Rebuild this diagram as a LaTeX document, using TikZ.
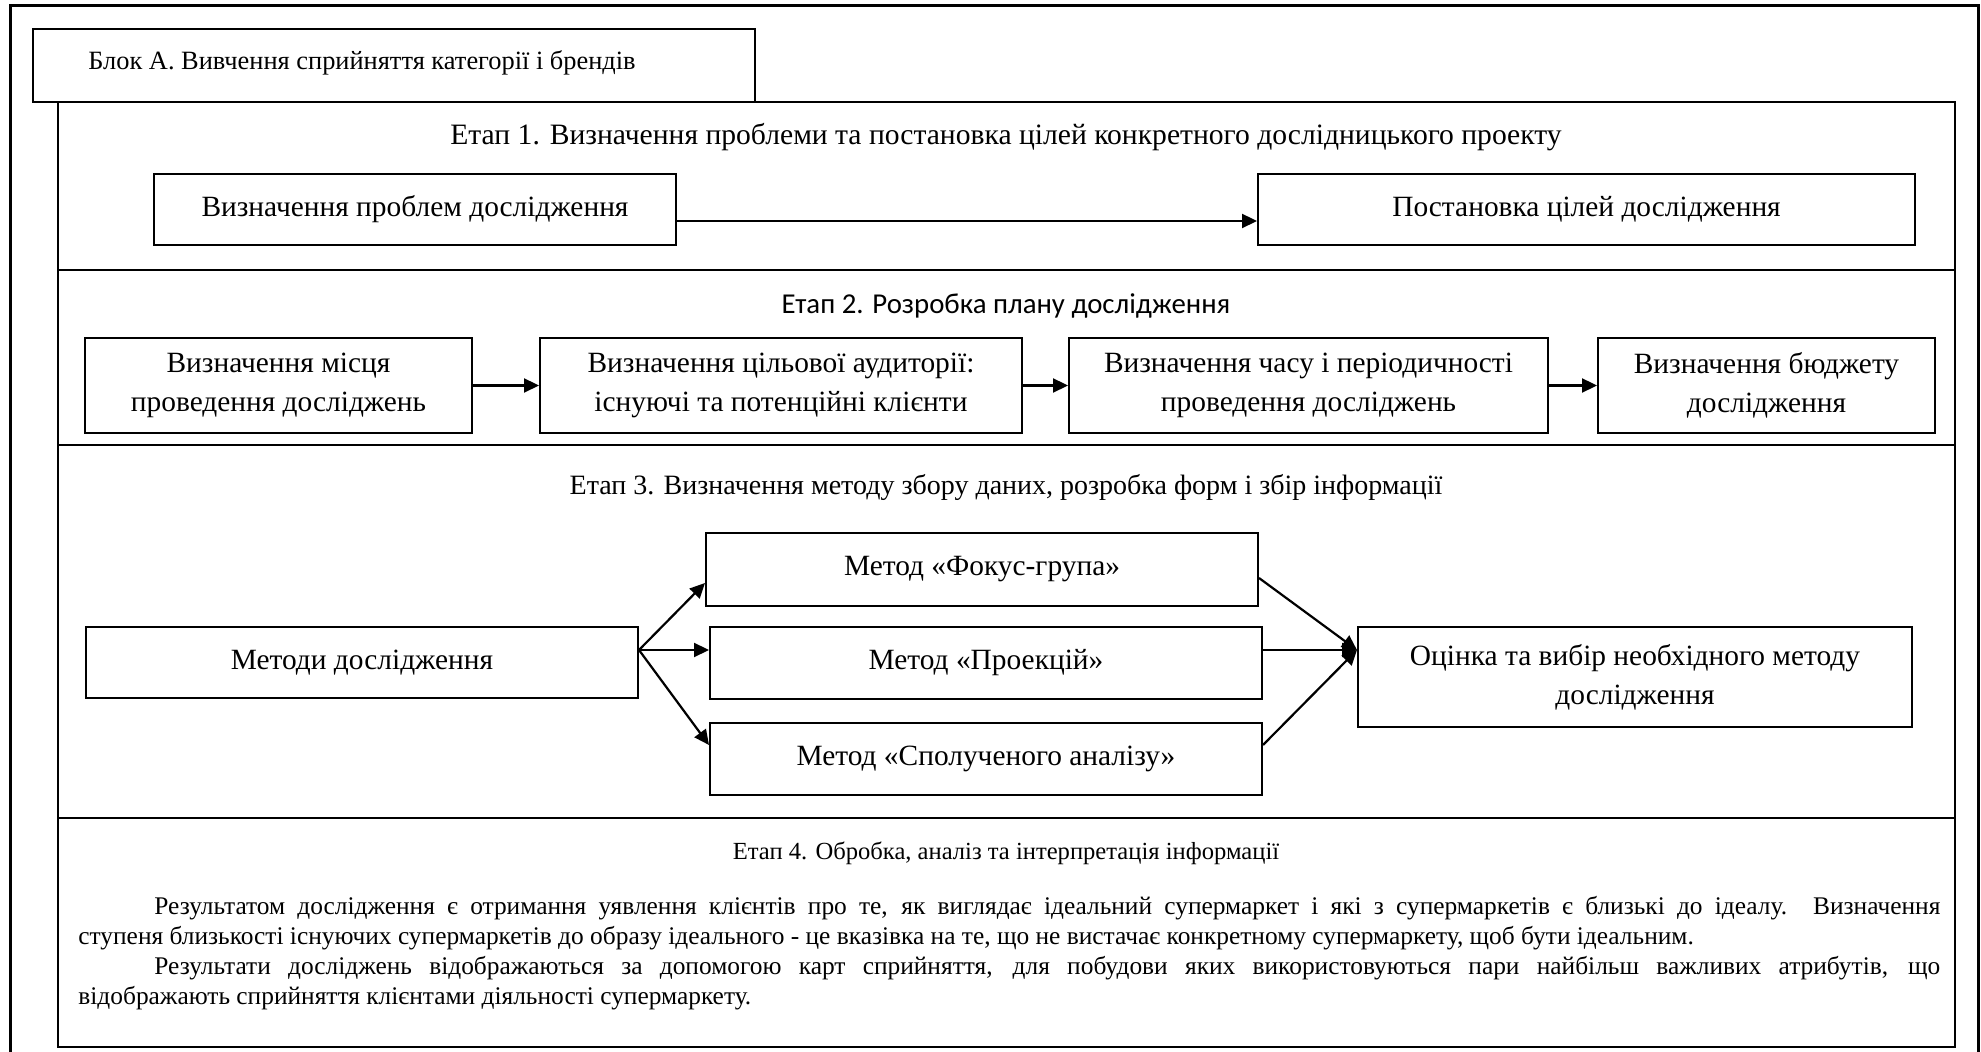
\documentclass[tikz,border=0pt]{standalone}
\usepackage{fontspec}
\setmainfont{Liberation Serif}
\newfontfamily\calibrifont{Carlito}
\usetikzlibrary{arrows.meta}

\begin{document}
\begin{tikzpicture}[x=0.5pt,y=-0.5pt,
  stagebox/.style={draw, line width=1pt, inner sep=2pt, align=center,
    font=\fontsize{14.7}{19.5}\selectfont},
  stagetitle/.style={anchor=base, inner sep=0pt, font=\fontsize{14}{17}\selectfont},
  arr/.style={line width=1.1pt, -{Triangle[length=7.5pt,width=7pt]}},
]
\clip (0,0) rectangle (1981,1052);
\fill[white] (0,0) rectangle (1981,1052);

% outer frame (its lower edge runs past the page)
\draw[line width=1.5pt] (10,6) rectangle (1978,1090);

% frame of the stages and the dividers between them
\draw[line width=1pt] (58,102) rectangle (1955,1047);
\draw[line width=1pt] (58,270) -- (1955,270);
\draw[line width=1pt] (58,445) -- (1955,445);
\draw[line width=1pt] (58,818) -- (1955,818);

% block heading
\node[draw, fill=white, line width=1.2pt, minimum width=361pt, minimum height=36.5pt] (blk) at (394,65.5) {};
\node[anchor=base west, inner sep=0pt, font=\fontsize{13.2}{16}\selectfont] (blktxt) at (88,70)
  {Блок А. Вивчення сприйняття категорії і брендів};

% stage 1
\node[stagetitle, font=\fontsize{14.8}{17}\selectfont] (t1) at (1006,145)
  {Етап 1. Визначення проблеми та постановка цілей конкретного дослідницького проекту};
\node[stagebox, minimum width=261pt, minimum height=35.5pt] (p1) at (415,209.5) {Визначення проблем дослідження};
\node[stagebox, minimum width=328.5pt, minimum height=35.5pt] (p2) at (1586.5,209.5) {Постановка цілей дослідження};
\draw[arr] ([yshift=-5.75pt]p1.east) -- ([yshift=-5.75pt]p2.west);

% stage 2
\node[stagetitle, font=\calibrifont\fontsize{14.4}{17}\selectfont] (t2) at (1006,314)
  {Етап 2. Розробка плану дослідження};
\node[stagebox, minimum width=193.5pt, minimum height=47.5pt] (q1) at (278.5,385.5)
  {Визначення місця\\проведення досліджень};
\node[stagebox, minimum width=241pt, minimum height=47.5pt] (q2) at (781,385.5)
  {Визначення цільової аудиторії:\\існуючі та потенційні клієнти};
\node[stagebox, minimum width=239.5pt, minimum height=47.5pt] (q3) at (1308.5,385.5)
  {Визначення часу і періодичності\\проведення досліджень};
\node[stagebox, minimum width=168.5pt, minimum height=47.5pt] (q4) at (1766.5,385.5)
  {Визначення бюджету\\дослідження};
\draw[arr] (q1) -- (q2);
\draw[arr] (q2) -- (q3);
\draw[arr] (q3) -- (q4);

% stage 3
\node[stagetitle] (t3) at (1006,495)
  {Етап 3. Визначення методу збору даних, розробка форм і збір інформації};
\node[stagebox, minimum width=276pt, minimum height=35.5pt] (meth) at (362,662.5) {Методи дослідження};
\node[stagebox, minimum width=276pt, minimum height=36.5pt] (fokus) at (982,569.5) {Метод «Фокус-група»};
\node[stagebox, minimum width=276pt, minimum height=36pt] (proekt) at (986,663) {Метод «Проекцій»};
\node[stagebox, minimum width=276pt, minimum height=36pt] (spol) at (986,759) {Метод «Сполученого аналізу»};
\node[stagebox, minimum width=277pt, minimum height=50pt] (ots) at (1635,677)
  {Оцінка та вибір необхідного методу\\дослідження};
\draw[arr] ([yshift=6.25pt]meth.east) -- ([yshift=-6.75pt]fokus.west);
\draw[arr] ([yshift=6.25pt]meth.east) -- ([yshift=6.5pt]proekt.west);
\draw[arr] ([yshift=6.25pt]meth.east) -- ([yshift=7pt]spol.west);
\draw[arr] ([yshift=-4.25pt]fokus.east) -- ([yshift=13.5pt]ots.west);
\draw[arr] ([yshift=6.5pt]proekt.east) -- ([yshift=13.5pt]ots.west);
\draw[arr] ([yshift=7pt]spol.east) -- ([yshift=13.5pt]ots.west);

% stage 4
\node[stagetitle, font=\fontsize{12.3}{15}\selectfont] (t4) at (1006,859)
  {Етап 4. Обробка, аналіз та інтерпретація інформації};
\node[anchor=north west, inner sep=0pt, text width=931pt, align=justify,
  font=\fontsize{12.7}{15}\selectfont] (res) at (78,896)
  {\hspace*{38pt}Результатом дослідження є отримання уявлення клієнтів про те, як виглядає ідеальний супермаркет і які з супермаркетів є близькі до ідеалу. Визначення\linebreak
   ступеня близькості існуючих супермаркетів до образу ідеального - це вказівка на те, що не вистачає конкретному супермаркету, щоб бути ідеальним.\par
   \hspace*{38pt}Результати досліджень відображаються за допомогою карт сприйняття, для побудови яких використовуються пари найбільш важливих атрибутів, що\linebreak
   відображають сприйняття клієнтами діяльності супермаркету.};
\end{tikzpicture}
\end{document}
